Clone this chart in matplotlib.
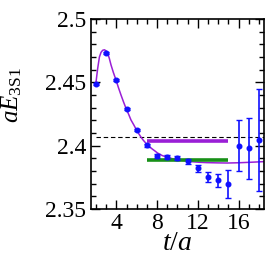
import numpy as np
import matplotlib
matplotlib.use("Agg")
from matplotlib import pyplot as plt

# Effective energy points
t = [2, 3, 4, 5, 6, 7, 8, 9, 10, 11, 12, 13, 14, 15, 16, 17, 18]
aE = [2.4485, 2.4735, 2.452, 2.4288, 2.4125, 2.4002, 2.392, 2.391, 2.3905,
      2.3878, 2.382, 2.375, 2.3726, 2.3697, 2.400, 2.398, 2.4046]
aE_err = [0.0008, 0.0008, 0.0008, 0.0008, 0.0009, 0.001, 0.0018, 0.0015, 0.0015,
          0.002, 0.003, 0.004, 0.005, 0.011, 0.0202, 0.024, 0.04]

# Fit curve
fit_t = [2.0, 2.16, 2.33, 2.49, 2.65, 2.82, 3.0, 3.14, 3.3, 3.47, 3.7, 3.96,
         4.2, 4.45, 4.7, 4.94, 5.2, 5.43, 5.7, 5.92, 6.15, 6.41, 6.65, 6.9,
         7.2, 7.5, 7.8, 8.04, 8.5, 9.0, 9.68, 10.5, 11.3, 12.1, 12.9, 14.0,
         14.9, 16.0, 17.2, 18.5]
fit_E = [2.4505, 2.461, 2.470, 2.4737, 2.4753, 2.4757, 2.4748, 2.4729, 2.4690,
         2.4637, 2.4578, 2.4518, 2.4458, 2.440, 2.4345, 2.4295, 2.4248, 2.4203,
         2.4165, 2.4132, 2.4100, 2.4068, 2.4042, 2.4019, 2.3995, 2.3975, 2.3957,
         2.3942, 2.3922, 2.3908, 2.3893, 2.3883, 2.3874, 2.3869, 2.3866, 2.3864,
         2.3863, 2.3865, 2.3869, 2.3874]

dashed_E = 2.4066
purple_band = (7, 15, 2.404)
green_band = (7, 15, 2.3887)

plt.rcParams["font.family"] = "Liberation Serif"
plt.rcParams["mathtext.fontset"] = "custom"
plt.rcParams["mathtext.rm"] = "Liberation Serif"
plt.rcParams["mathtext.it"] = "Liberation Serif:italic"

fig = plt.figure(figsize=(2.74, 2.62), dpi=100)
ax = fig.add_axes([0.332, 0.2023, 0.6315, 0.7252])

blue = "#1010ff"
purple = "#9a1fd6"
green = "#189018"

ax.axhline(dashed_E, xmin=(2 - 1.5) / 17, xmax=1, color="black", lw=0.8,
           ls=(0, (4, 2.5)), zorder=1)
ax.plot(fit_t, fit_E, color=purple, lw=1.1, zorder=2)
ax.plot(purple_band[:2], [purple_band[2]] * 2, color=purple, lw=2.6,
        solid_capstyle="butt", zorder=3)
ax.plot(green_band[:2], [green_band[2]] * 2, color=green, lw=2.6,
        solid_capstyle="butt", zorder=3)
ax.errorbar(t, aE, yerr=aE_err, fmt="o", color=blue, ms=3.3, elinewidth=1.2,
            capsize=2.2, capthick=1.0, zorder=4)

ax.set_xlim(1.5, 18.5)
ax.set_ylim(2.35, 2.5)
ax.set_xticks([4, 8, 12, 16])
ax.set_xticks(np.arange(2, 19, 1), minor=True)
ax.set_yticks([2.35, 2.4, 2.45, 2.5])
ax.set_yticklabels(["2.35", "2.4", "2.45", "2.5"])
ax.set_yticks(np.arange(2.35, 2.5, 0.01), minor=True)
ax.tick_params(which="both", direction="in", top=True, right=True,
               labelsize=17, width=1.0)
ax.tick_params(axis="y", pad=3.5)
ax.tick_params(axis="x", pad=3)
ax.tick_params(which="major", length=6.5)
ax.tick_params(which="minor", length=3.5)
for s in ax.spines.values():
    s.set_linewidth(1.2)

ax.set_xlabel("$t/a$", fontsize=20, labelpad=-2)
ax.set_ylabel(r"$aE_{\rm 3S1}$", fontsize=18)
ax.yaxis.set_label_coords(-0.385, 0.6)

plt.savefig("out.png", dpi=100)
plt.close()
